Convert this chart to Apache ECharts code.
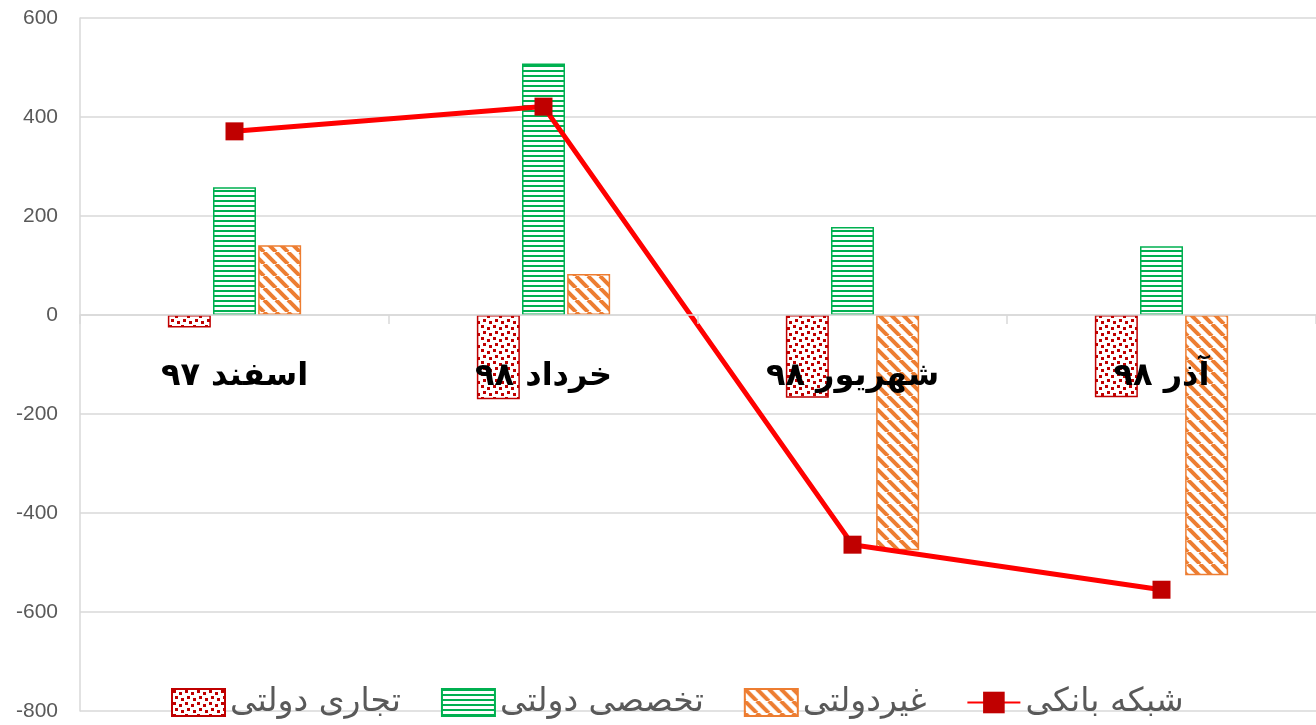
<!DOCTYPE html>
<html>
<head>
<meta charset="utf-8">
<script src="https://cdn.jsdelivr.net/npm/echarts@6/dist/echarts.min.js"></script>
<style>
  html, body { margin: 0; padding: 0; background: #fff; }
  #chart { width: 1316px; height: 725px; }
</style>
</head>
<body>
<div id="chart"></div>
<script>
// data
const categories = ['اسفند ۹۷', 'خرداد ۹۸', 'شهریور ۹۸', 'آذر ۹۸'];
const tejariDolati = [-25, -170, -167, -166];
const takhassosiDolati = [258, 508, 178, 139];
const gheyrDolati = [141, 83, -475, -526];
const shabakeBanki = [371, 421, -464, -555];

const seriesNames = ['تجاری دولتی', 'تخصصی دولتی', 'غیردولتی', 'شبکه بانکی'];

const makeTile = (w, h, draw) => {
  const c = document.createElement('canvas');
  c.width = w;
  c.height = h;
  const ctx = c.getContext('2d');
  ctx.fillStyle = '#fff';
  ctx.fillRect(0, 0, w, h);
  draw(ctx);
  return c;
};

const dotTile = makeTile(12, 12, (ctx) => {
  ctx.fillStyle = '#C00000';
  [[1, 1], [7, 3], [3, 7], [9, 9]].forEach(([x, y]) => ctx.fillRect(x, y, 3, 3));
});

const hLineTile = makeTile(4, 5, (ctx) => {
  ctx.fillStyle = '#00B050';
  ctx.fillRect(0, 0, 4, 2);
});

const diagTile = makeTile(12, 12, (ctx) => {
  ctx.strokeStyle = '#ED7D31';
  ctx.lineWidth = 4;
  [-12, 0, 12].forEach((x) => {
    ctx.beginPath();
    ctx.moveTo(x, 0);
    ctx.lineTo(x + 12, 12);
    ctx.stroke();
  });
});

const pattern = (img) => ({ image: img, repeat: 'repeat' });

const persianFont = '"DejaVu Sans", sans-serif';

// grid geometry, used to put the category labels on the zero line
const gridTop = 18;
const gridBottom = 14;
const chartHeight = 725;
const yMin = -800;
const yMax = 600;
const plotHeight = chartHeight - gridTop - gridBottom;
const zeroOffset = -(plotHeight * (0 - yMin)) / (yMax - yMin);

const buildBar = (name, values, tile, border) => ({
  name,
  type: 'bar',
  data: values,
  barWidth: 43,
  barGap: '5%',
  itemStyle: {
    color: pattern(tile),
    borderColor: border,
    borderWidth: 1.5,
  },
});

const chart = echarts.init(document.getElementById('chart'));

chart.setOption({
  animation: false,
  grid: { left: 80, right: 0, top: gridTop, bottom: gridBottom, outerBoundsMode: 'none' },
  legend: {
    data: [
      { name: seriesNames[0], icon: 'rect' },
      { name: seriesNames[1], icon: 'rect' },
      { name: seriesNames[2], icon: 'rect' },
      { name: seriesNames[3] },
    ],
    left: 166,
    top: 681,
    itemWidth: 53,
    itemHeight: 27,
    itemGap: 40,
    textStyle: { fontFamily: persianFont, fontSize: 33, color: '#595959' },
  },
  xAxis: {
    type: 'category',
    data: categories,
    z: 10,
    offset: zeroOffset,
    axisLine: { onZero: false, lineStyle: { color: '#d9d9d9', width: 1.5 } },
    axisTick: { show: true, length: 9, lineStyle: { color: '#d9d9d9', width: 1.5 } },
    axisLabel: {
      interval: 0,
      margin: 46,
      fontFamily: persianFont,
      fontWeight: 'bold',
      fontSize: 32,
      color: '#000',
    },
  },
  yAxis: {
    type: 'value',
    min: yMin,
    max: yMax,
    interval: 200,
    axisLine: { show: true, lineStyle: { color: '#d9d9d9', width: 1.5 } },
    axisTick: { show: false },
    axisLabel: {
      margin: 22,
      fontFamily: '"Liberation Sans", sans-serif',
      fontSize: 21,
      color: '#595959',
    },
    splitLine: { lineStyle: { color: '#d9d9d9', width: 1.5 } },
  },
  series: [
    buildBar(seriesNames[0], tejariDolati, dotTile, '#C00000'),
    buildBar(seriesNames[1], takhassosiDolati, hLineTile, '#00B050'),
    buildBar(seriesNames[2], gheyrDolati, diagTile, '#ED7D31'),
    {
      name: seriesNames[3],
      type: 'line',
      data: shabakeBanki,
      z: 5,
      symbol: 'rect',
      symbolSize: 18,
      lineStyle: { color: '#FF0000', width: 5 },
      itemStyle: { color: '#C00000' },
    },
  ],
});
</script>
</body>
</html>
